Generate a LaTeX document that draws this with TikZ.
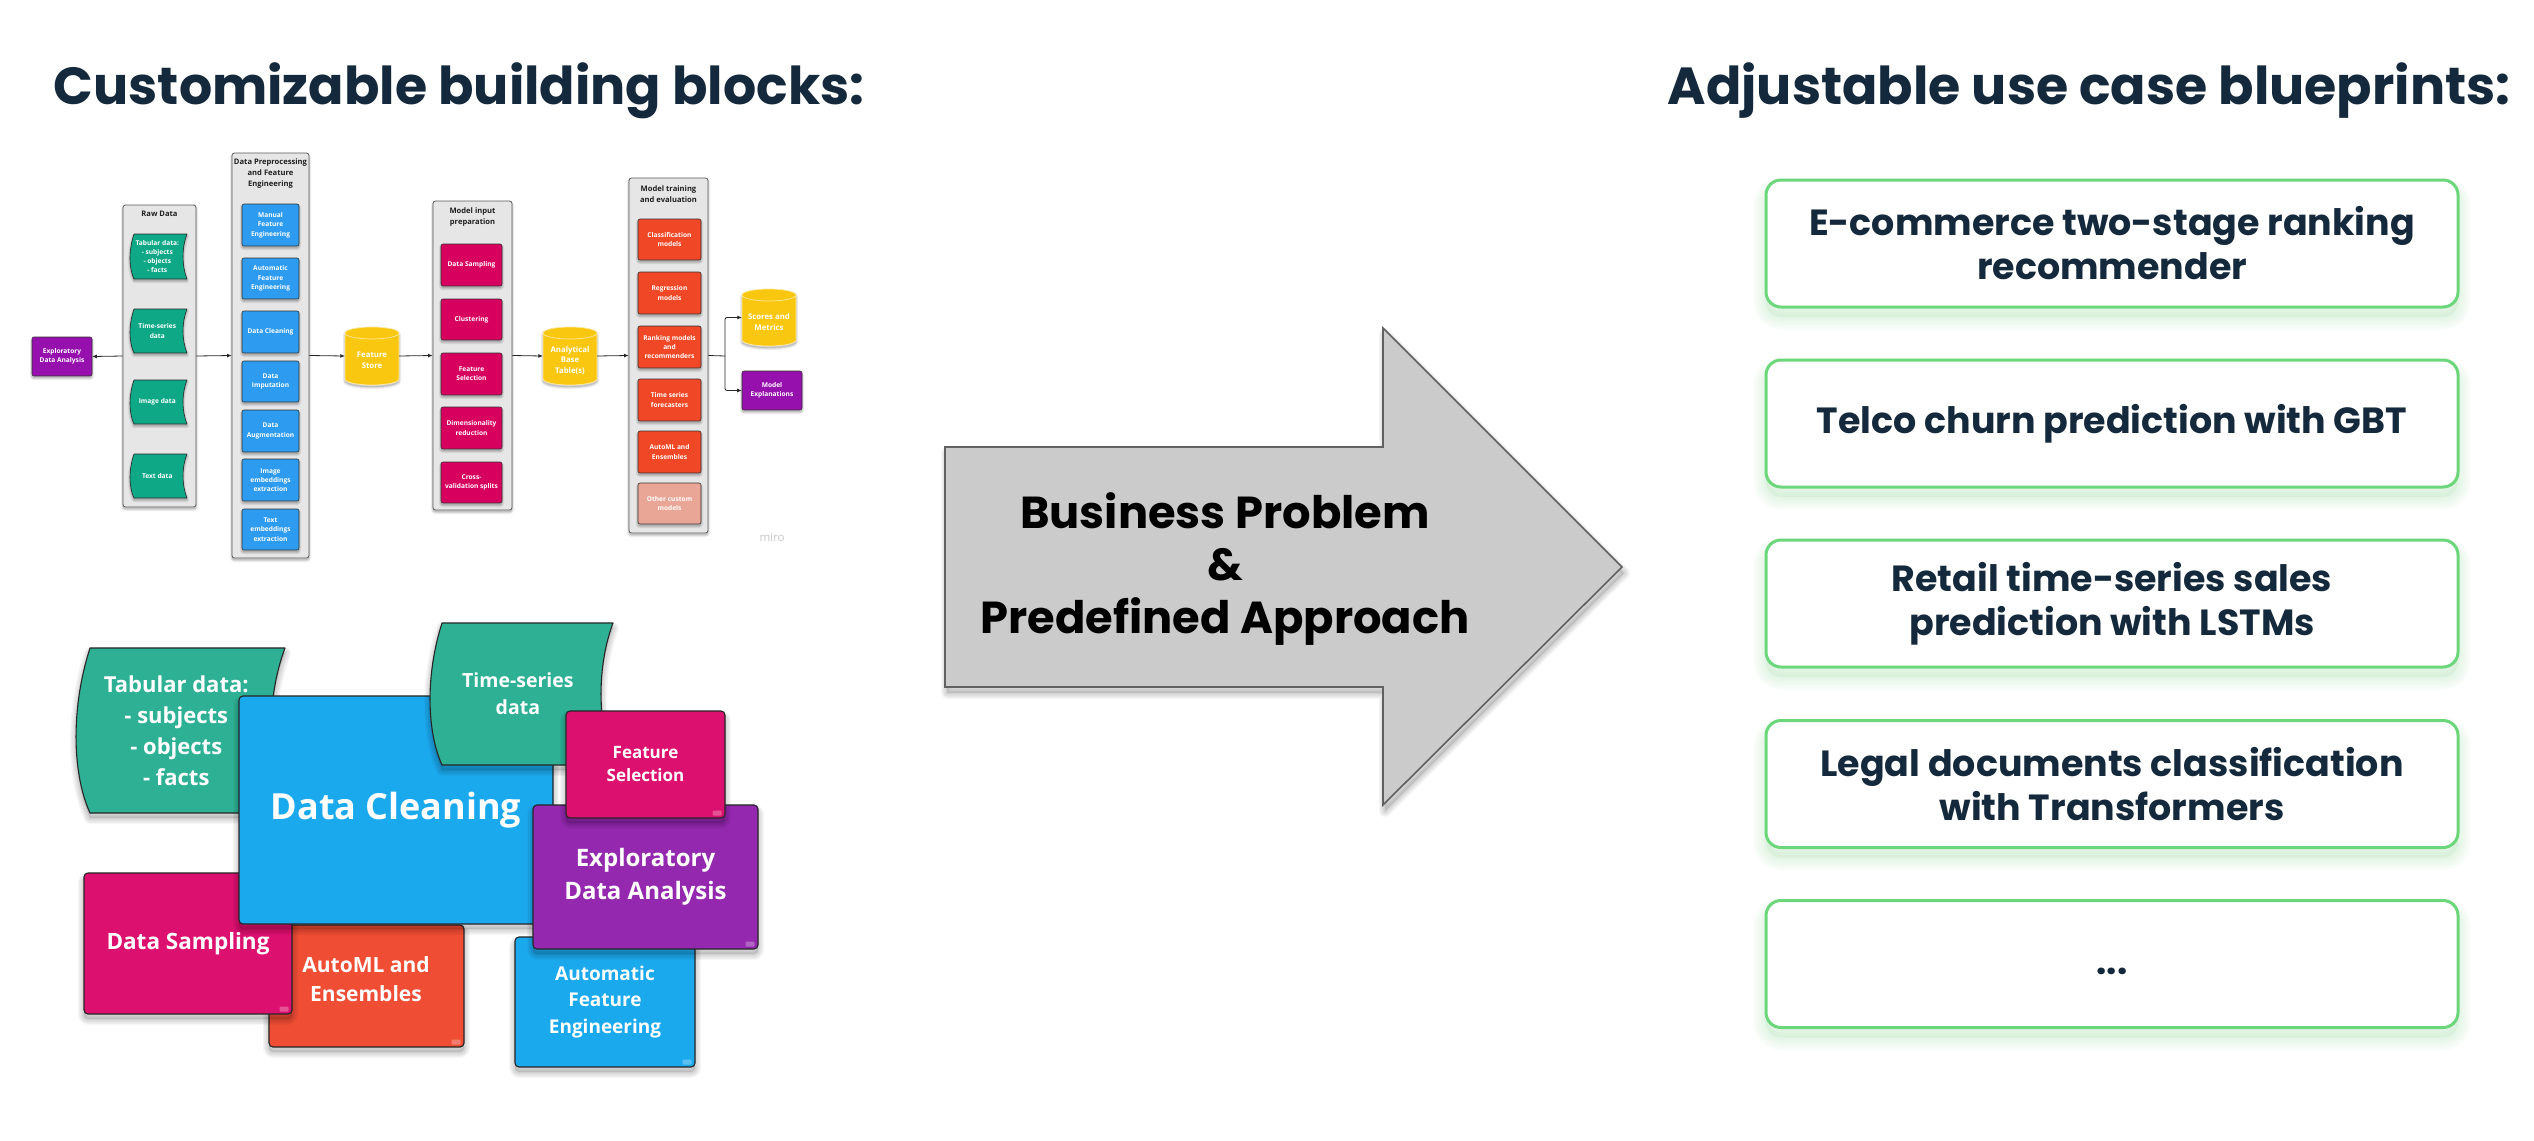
\documentclass[tikz,border=0pt]{standalone}
\usepackage{fontspec}
\usetikzlibrary{arrows.meta}
\newfontfamily\mont{Poppins}
\newfontfamily\osans{Open Sans}
\newcommand{\fsz}[2]{\fontsize{#1}{#2}\selectfont}
\definecolor{tealB}{RGB}{46,176,149}
\definecolor{blueB}{RGB}{27,169,238}
\definecolor{pinkB}{RGB}{220,16,110}
\definecolor{purpB}{RGB}{148,41,175}
\definecolor{oranB}{RGB}{240,77,53}
\definecolor{tealS}{RGB}{14,168,134}
\definecolor{blueS}{RGB}{45,155,240}
\definecolor{pinkS}{RGB}{216,0,95}
\definecolor{oranS}{RGB}{240,72,38}
\definecolor{salmS}{RGB}{233,166,150}
\definecolor{yelS}{RGB}{250,199,16}
\definecolor{purpS}{RGB}{149,16,172}
\definecolor{panelF}{RGB}{230,230,230}
\definecolor{panelD}{RGB}{90,90,90}
\definecolor{navy}{RGB}{20,41,59}
\definecolor{gline}{RGB}{108,214,122}
\definecolor{arrF}{RGB}{203,203,203}
\definecolor{arrD}{RGB}{97,97,97}

% soft shadow: [colour]{dx}{dy}{spread}{path}
\newcommand{\softshadow}[5][black]{%
  \begin{scope}[shift={(#2,#3)}]
    \fill[#1, fill opacity=0.10] #5;
    \foreach \kk in {1,...,5}{\draw[#1, draw opacity=0.035, line width={\kk*#4pt}, line join=round] #5;}
  \end{scope}}
\def\blkspread{2.4}\def\blkdy{5}\def\tapelw{1.1pt}
% box: name fill L T R B radius style text
\newcommand{\blk}[9]{%
  \pgfmathsetmacro{\bcx}{(#3+#5)/2}\pgfmathsetmacro{\bcy}{(#4+#6)/2}%
  \pgfmathsetmacro{\bw}{#5-#3}\pgfmathsetmacro{\bh}{#6-#4}%
  \softshadow{0}{\blkdy}{\blkspread}{[rounded corners=#7pt] (#3,#4) rectangle (#5,#6)}%
  \node[boxsty, fill=#2, rounded corners=#7pt, minimum width=\bw pt, minimum height=\bh pt, #8] (#1) at (\bcx,\bcy) {#9};}
% tape: name fill L T R B d style text
\newcommand{\tape}[9]{%
  \softshadow{0}{\blkdy}{\blkspread}{({#3+#7},#4) -- (#5,#4) .. controls ({#5-1.33*#7},{#4+0.3*(#6-#4)}) and ({#5-1.33*#7},{#4+0.7*(#6-#4)}) .. (#5,#6) -- ({#3+#7},#6) .. controls ({#3-0.33*#7},{#4+0.75*(#6-#4)}) and ({#3-0.33*#7},{#4+0.35*(#6-#4)}) .. ({#3+#7},#4) -- cycle}%
  \draw[draw=black!85, line width=\tapelw, line join=round, fill=#2] ({#3+#7},#4) -- (#5,#4) .. controls ({#5-1.33*#7},{#4+0.3*(#6-#4)}) and ({#5-1.33*#7},{#4+0.7*(#6-#4)}) .. (#5,#6) -- ({#3+#7},#6) .. controls ({#3-0.33*#7},{#4+0.75*(#6-#4)}) and ({#3-0.33*#7},{#4+0.35*(#6-#4)}) .. ({#3+#7},#4) -- cycle;%
  \pgfmathsetmacro{\tcx}{(#3+#5)/2-0.3*#7}\pgfmathsetmacro{\tcy}{(#4+#6)/2}%
  \node[txtsty, #8] (#1) at (\tcx,\tcy) {#9};}
% cylinder: name L T R B text
\newcommand{\cyl}[6]{%
  \pgfmathsetmacro{\crx}{(#4-#2)/2}\pgfmathsetmacro{\ccx}{(#2+#4)/2}\pgfmathsetmacro{\ccy}{(#3+#5)/2}%
  \pgfmathsetmacro{\cw}{#4-#2}\pgfmathsetmacro{\ch}{#5-#3}%
  \softshadow{0}{2}{0.9}{(#2,#3+6) -- (#2,#5-6) arc[start angle=180,end angle=360,x radius=\crx pt,y radius=6pt] -- (#4,#3+6) arc[start angle=0,end angle=180,x radius=\crx pt,y radius=6pt] -- cycle}%
  \draw[fill=yelS, draw=yelS!40!white, line width=0.7pt] (#2,#3+6) -- (#2,#5-6) arc[start angle=180,end angle=360,x radius=\crx pt,y radius=6pt] -- (#4,#3+6) arc[start angle=0,end angle=180,x radius=\crx pt,y radius=6pt] -- cycle;%
  \draw[yelS!40!white, line width=0.7pt] (#2,#3+6) arc[start angle=180,end angle=360,x radius=\crx pt,y radius=6pt];%
  \node[inner sep=0pt, minimum width=\cw pt, minimum height=\ch pt] (#1) at (\ccx,\ccy) {};%
  \node[txtsty, font={\osans\bfseries\fsz{7.8}{10.6}}] (#1-t) at (\ccx,\ccy+4.5) {#6};}
\newcommand{\cmark}[1]{\fill[white, fill opacity=0.28, rounded corners=1pt] ([xshift=-13pt,yshift=3pt]#1.south east) rectangle ([xshift=-4pt,yshift=8pt]#1.south east);}

\tikzset{
  boxsty/.style={draw=black!85, line width=1.1pt, inner sep=0pt, align=center, text=white},
  txtsty/.style={inner sep=0pt, align=center, text=white},
  sfont/.style={font={\osans\bfseries\fsz{6.6}{9.3}}},
  sbsty/.style={draw=black!80, line width=0.6pt, sfont},
  pansty/.style={draw=panelD, line width=0.8pt},
  ptitle/.style={inner sep=0pt, align=center, text=black!88, font={\osans\bfseries\fsz{7.6}{10.8}}},
  sarr/.style={draw=black!85, line width=0.8pt, -{Latex[length=4.5pt,width=4pt]}},
  ttl/.style={inner sep=0pt, text=navy, font={\mont\bfseries\fsz{52.2}{60}}},
  bptext/.style={inner sep=0pt, align=center, text=navy, font={\mont\bfseries\fsz{36.4}{44}}},
  bpsty/.style={draw=gline, line width=3pt, fill=white, rounded corners=15pt, minimum width=692pt, minimum height=127pt, bptext},
}
\newcommand{\bpbox}[3]{%
  \pgfmathsetmacro{\bpT}{#2-63.5}\pgfmathsetmacro{\bpB}{#2+63.5}%
  \softshadow[gline]{0}{10}{5}{[rounded corners=15pt] (1766,\bpT) rectangle (2458,\bpB)}%
  \node[bpsty] (#1) at (2112,#2) {#3};}

\begin{document}
\begin{tikzpicture}[x=1pt,y=-1pt]
\useasboundingbox[fill=white] (0,0) rectangle (2534,1140);

% ---------- titles ----------
\node[ttl, anchor=base] (t1) at (459,104) {Customizable building blocks:};
\node[ttl, anchor=base] (t2) at (2089,104) {Adjustable use case blueprints:};

% ---------- small pipeline ----------
\def\blkspread{0.9}\def\blkdy{2}\def\tapelw{0.6pt}
\blk{rawp}{panelF}{123}{205}{196}{507}{2.5}{pansty}{}
\node[ptitle] (rawt) at (159.5,214) {Raw Data};
\tape{rt1}{tealS}{130}{234}{187}{279}{4}{sfont}{Tabular data:\\- subjects\\- objects\\- facts}
\tape{rt2}{tealS}{130}{309}{187}{353}{4}{sfont}{Time-series\\data}
\tape{rt3}{tealS}{130}{380}{187}{424}{4}{sfont}{Image data}
\tape{rt4}{tealS}{130}{454}{187}{498}{4}{sfont}{Text data}

\blk{prep}{panelF}{232}{153}{309}{558}{2.5}{pansty}{}
\node[ptitle] (prept) at (270.5,173.5) {Data Preprocessing\\and Feature\\Engineering};
\blk{pb1}{blueS}{242}{204}{299}{246}{2}{sbsty}{Manual\\Feature\\Engineering}
\blk{pb2}{blueS}{242}{258}{299}{299}{2}{sbsty}{Automatic\\Feature\\Engineering}
\blk{pb3}{blueS}{242}{311}{299}{353}{2}{sbsty}{Data Cleaning}
\blk{pb4}{blueS}{242}{361}{299}{402}{2}{sbsty}{Data\\Imputation}
\blk{pb5}{blueS}{242}{410}{299}{452}{2}{sbsty}{Data\\Augmentation}
\blk{pb6}{blueS}{242}{459}{299}{501}{2}{sbsty}{Image\\embeddings\\extraction}
\blk{pb7}{blueS}{242}{509}{299}{550}{2}{sbsty}{Text\\embeddings\\extraction}

\cyl{fst}{345}{327}{399}{385}{Feature\\Store}

\blk{mip}{panelF}{433}{201}{512}{510}{2.5}{pansty}{}
\node[ptitle] (mipt) at (472.5,217) {Model input\\preparation};
\blk{mp1}{pinkS}{441}{244}{502}{286}{2}{sbsty}{Data Sampling}
\blk{mp2}{pinkS}{441}{299}{502}{340}{2}{sbsty}{Clustering}
\blk{mp3}{pinkS}{441}{353}{502}{395}{2}{sbsty}{Feature\\Selection}
\blk{mp4}{pinkS}{441}{407}{502}{449}{2}{sbsty}{Dimensionality\\reduction}
\blk{mp5}{pinkS}{441}{462}{502}{503}{2}{sbsty}{Cross-\\validation splits}

\cyl{abt}{543}{327}{597}{385}{Analytical\\Base\\Table(s)}

\blk{mt}{panelF}{629}{178}{708}{533}{2.5}{pansty}{}
\node[ptitle] (mtt) at (668.5,194) {Model training\\and evaluation};
\blk{mo1}{oranS}{638}{219}{701}{260}{2}{sbsty}{Classification\\models}
\blk{mo2}{oranS}{638}{272}{701}{314}{2}{sbsty}{Regression\\models}
\blk{mo3}{oranS}{638}{326}{701}{368}{2}{sbsty}{Ranking models\\and\\recommenders}
\blk{mo4}{oranS}{638}{379}{701}{421}{2}{sbsty}{Time series\\forecasters}
\blk{mo5}{oranS}{638}{431}{701}{473}{2}{sbsty}{AutoML and\\Ensembles}
\blk{mo6}{salmS}{638}{483}{701}{524}{2}{sbsty}{Other custom\\models}

\cyl{scm}{742}{289}{796}{346}{Scores and\\Metrics}
\blk{seda}{purpS}{32}{337}{92}{376}{2}{sbsty}{Exploratory\\Data Analysis}
\blk{mexp}{purpS}{742}{371}{802}{410}{2}{sbsty}{Model\\Explanations}

\draw[sarr] (rawp.west) -- (seda.east);
\draw[sarr] (rawp.east) -- (prep.west);
\draw[sarr] (prep.east) -- (fst.west);
\draw[sarr] (fst.east) -- (mip.west);
\draw[sarr] (mip.east) -- (abt.west);
\draw[sarr] (abt.east) -- (mt.west);
\coordinate (br) at (725,356);
\draw[draw=black!85, line width=0.8pt] (mt.east) -- (br);
\draw[sarr, rounded corners=2pt] (br) |- (scm.west);
\draw[sarr, rounded corners=2pt] (br) |- (mexp.west);
\node[inner sep=0pt, text=black!22, font={\osans\fsz{11.5}{12}}] (miro) at (772,537) {miro};

% ---------- big building blocks ----------
\def\blkspread{2.4}\def\blkdy{5}\def\tapelw{1.1pt}
\tape{btab}{tealB}{76}{648}{285}{813}{14}{font={\osans\bfseries\fsz{22}{31}}}{Tabular data:\\- subjects\\- objects\\- facts}
\blk{baml}{oranB}{269}{925}{464}{1047}{4}{}{}
\node[txtsty, font={\osans\bfseries\fsz{21}{29}}] (bamlt) at (366,979) {AutoML and\\Ensembles};
\cmark{baml}
\blk{bds}{pinkB}{84}{873}{292}{1014}{4}{font={\osans\bfseries\fsz{22.5}{30}}}{Data Sampling}
\cmark{bds}
\blk{bdc}{blueB}{239}{696}{553}{924}{4}{font={\osans\bfseries\fsz{36}{40}}}{Data Cleaning}
\tape{bts}{tealB}{430}{623}{613}{765}{12}{font={\osans\bfseries\fsz{19.5}{27}}}{Time-series\\data}
\blk{bafe}{blueB}{515}{937}{695}{1067}{4}{font={\osans\bfseries\fsz{19}{26.5}}}{Automatic\\Feature\\Engineering}
\cmark{bafe}
\blk{beda}{purpB}{533}{805}{758}{949}{4}{font={\osans\bfseries\fsz{24}{33}}}{Exploratory\\Data Analysis}
\cmark{beda}
\blk{bfs}{pinkB}{566}{711}{725}{818}{4}{font={\osans\bfseries\fsz{17}{23}}}{Feature\\Selection}
\cmark{bfs}

% ---------- big arrow ----------
\softshadow{2}{6}{2.4}{(945,447) -- (1383,447) -- (1383,328) -- (1622,567) -- (1383,805) -- (1383,687) -- (945,687) -- cycle}
\draw[fill=arrF, draw=arrD, line width=1.6pt] (945,447) -- (1383,447) -- (1383,328) -- (1622,567) -- (1383,805) -- (1383,687) -- (945,687) -- cycle;
\node[inner sep=0pt, align=center, text=black, font={\mont\bfseries\fsz{44.8}{52.5}}] (bpa) at (1225,569) {Business Problem\\\&\\Predefined Approach};

% ---------- blueprints ----------
\bpbox{bp1}{243.5}{E-commerce two-stage ranking\\recommender}
\bpbox{bp2}{423.5}{Telco churn prediction with GBT}
\bpbox{bp3}{603.5}{Retail time-series sales\\prediction with LSTMs}
\bpbox{bp4}{784}{Legal documents classification\\with Transformers}
\bpbox{bp5}{964}{}
\node[bptext] (bp5t) at (2112,971) {...};
\end{tikzpicture}
\end{document}
